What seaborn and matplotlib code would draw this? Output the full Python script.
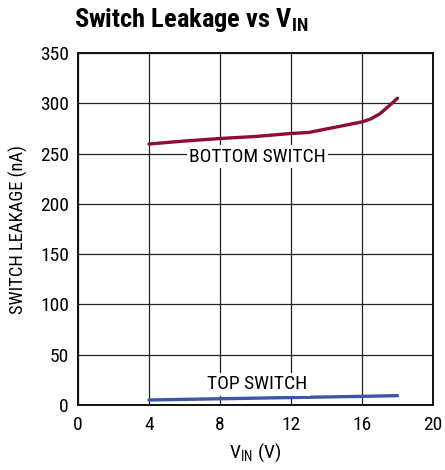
import matplotlib
matplotlib.use("Agg")
import matplotlib.pyplot as plt
import seaborn as sns
import pandas as pd

# Data
vin_bottom = [4, 6, 8, 10, 12, 13, 14, 15, 16, 16.5, 17, 17.5, 18]
leak_bottom = [259.5, 262.5, 265, 267, 270, 271, 274.5, 278, 281.5, 284.5, 289.5, 297, 305]
vin_top = [4, 8, 12, 16, 18]
leak_top = [5, 6.2, 7.4, 8.6, 9.3]
x_ticks = [0, 4, 8, 12, 16, 20]
y_ticks = [0, 50, 100, 150, 200, 250, 300, 350]

sns.set_theme(style="white")
FONT = ["Roboto Condensed", "PT Sans Narrow", "DejaVu Sans"]
plt.rcParams["font.family"] = FONT
plt.rcParams["text.color"] = "black"
plt.rcParams["axes.labelcolor"] = "black"
plt.rcParams["xtick.color"] = "black"
plt.rcParams["ytick.color"] = "black"

df = pd.concat([
    pd.DataFrame({"vin": vin_bottom, "leak": leak_bottom, "series": "BOTTOM SWITCH"}),
    pd.DataFrame({"vin": vin_top, "leak": leak_top, "series": "TOP SWITCH"}),
])

fig = plt.figure(figsize=(4.45, 4.70), dpi=100)
ax = fig.add_axes([0.1753, 0.1383, 0.7977, 0.7489])

sns.lineplot(data=df, x="vin", y="leak", hue="series",
             palette={"BOTTOM SWITCH": "#8e0c3a", "TOP SWITCH": "#3a56a8"},
             linewidth=2.4, legend=False, ax=ax, zorder=3)

ax.set_xlim(0, 20)
ax.set_ylim(0, 350)
ax.set_xticks(x_ticks)
ax.set_yticks(y_ticks)
ax.set_xticklabels([str(t) for t in x_ticks], fontsize=14)
ax.set_yticklabels([str(t) for t in y_ticks], fontsize=14)
ax.tick_params(axis="x", length=0, pad=8)
ax.tick_params(axis="y", length=0, pad=6.5)
ax.grid(True, color="#222222", linewidth=0.9)
for s in ax.spines.values():
    s.set_color("#111111")
    s.set_linewidth(1.4)

ax.set_xlabel(r"V$_{\mathregular{IN}}$ (V)", fontsize=14, labelpad=5)
ax.set_ylabel("SWITCH LEAKAGE (nA)", fontsize=13.3, labelpad=9)

ax.text(10.1, 247, "BOTTOM SWITCH", ha="center", va="center", fontsize=14,
        bbox=dict(facecolor="white", edgecolor="none", pad=1.5), zorder=4)
ax.text(10.1, 20.5, "TOP SWITCH", ha="center", va="center", fontsize=14,
        bbox=dict(facecolor="white", edgecolor="none", pad=1.5), zorder=4)

fig.text(0.166, 0.958, r"Switch Leakage vs V$_{\mathregular{IN}}$", ha="left", va="center",
         fontsize=19, fontweight="bold")

fig.savefig("out.png", dpi=100)
